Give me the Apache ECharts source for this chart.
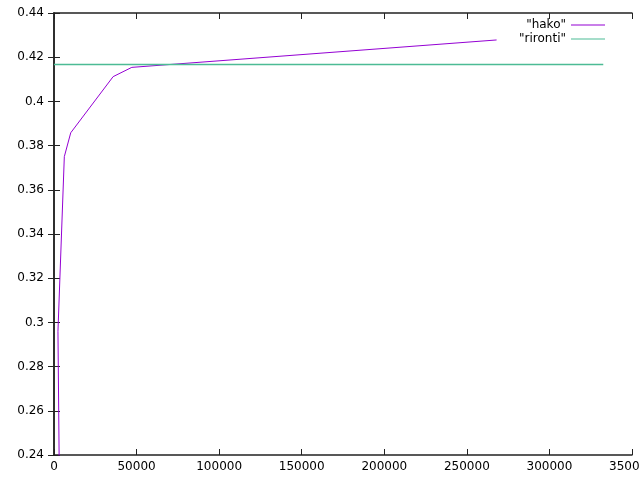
<!DOCTYPE html>
<html>
<head>
<meta charset="utf-8">
<script src="https://cdn.jsdelivr.net/npm/echarts@6/dist/echarts.min.js"></script>
<style>
html,body{margin:0;padding:0;background:#fff;}
#c{width:640px;height:480px;}
</style>
</head>
<body>
<div id="c"></div>
<script>
// hako: [x, y] points (first point lies below the plot range)
const hakoX = [3600, 2400, 6250, 10130, 35800, 47100, 268000];
const hakoY = [0.20, 0.296, 0.375, 0.3858, 0.4112, 0.4154, 0.4278];
// rironti: constant theoretical value
const rirontiX = [0, 332600];
const rirontiY = [0.4167, 0.4167];
const xTicks = [0, 50000, 100000, 150000, 200000, 250000, 300000, 350000];
const yTicks = [0.24, 0.26, 0.28, 0.3, 0.32, 0.34, 0.36, 0.38, 0.4, 0.42, 0.44];

const font = 'DejaVu Sans';
const chart = echarts.init(document.getElementById('c'), null, {renderer: 'canvas'});
const axisLine = {show: true, lineStyle: {color: '#222', width: 1.5}};
const tick = {show: true, inside: true, length: 6, lineStyle: {color: '#222'}};
const lbl = {color: '#000', fontFamily: font, fontSize: 12};
chart.setOption({
  animation: false,
  backgroundColor: '#fff',
  grid: {left: 54, right: 8, top: 13, bottom: 25, containLabel: false, outerBoundsMode: 'none'},
  legend: {
    right: 30, top: 14, orient: 'vertical', align: 'right',
    itemWidth: 34, itemHeight: 8, itemGap: 2,
    textStyle: {fontFamily: font, fontSize: 12, color: '#000'},
    data: [
      {name: '"hako"', icon: 'path://M0,0L34,0L34,1L0,1Z'},
      {name: '"rironti"', icon: 'path://M0,0L34,0L34,1L0,1Z'}
    ]
  },
  xAxis: [{
    type: 'value', min: xTicks[0], max: xTicks[xTicks.length-1], interval: 50000,
    axisLine: axisLine, axisTick: tick, splitLine: {show: false},
    axisLabel: Object.assign({margin: 6, showMaxLabel: true, hideOverlap: false, formatter: v => String(v)}, lbl)
  }, {
    type: 'value', position: 'top', min: xTicks[0], max: xTicks[xTicks.length-1], interval: 50000,
    axisLine: axisLine, axisTick: tick, splitLine: {show: false}, axisLabel: {show: false}
  }],
  yAxis: [{
    type: 'value', min: yTicks[0], max: yTicks[yTicks.length-1], interval: 0.02,
    axisLine: axisLine, axisTick: tick, splitLine: {show: false},
    axisLabel: Object.assign({margin: 10}, lbl)
  }, {
    type: 'value', position: 'right', min: yTicks[0], max: yTicks[yTicks.length-1], interval: 0.02,
    axisLine: axisLine, axisTick: tick, splitLine: {show: false}, axisLabel: {show: false}
  }],
  series: [{
    name: '"hako"', type: 'line', showSymbol: false, symbol: 'none', clip: true,
    color: '#9400d3', lineStyle: {color: '#9400d3', width: 1},
    data: hakoX.map((x, i) => [x, hakoY[i]])
  }, {
    name: '"rironti"', type: 'line', showSymbol: false, symbol: 'none', clip: true,
    color: '#4dbb95', lineStyle: {color: '#4dbb95', width: 1.5},
    data: rirontiX.map((x, i) => [x, rirontiY[i]])
  }]
});
</script>
</body>
</html>
